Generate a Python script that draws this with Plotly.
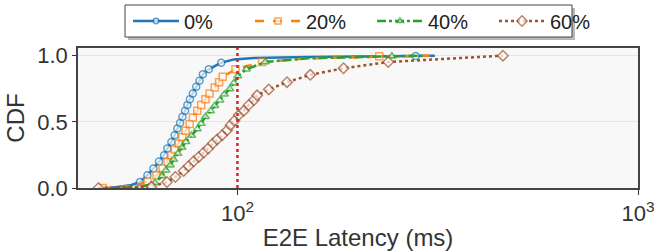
import plotly.graph_objects as go

# ---- data ----
labels = ["0%", "20%", "40%", "60%"]

lat_0 = [48, 54, 57.1, 59.6, 61.7, 63.7, 65.6, 66.8, 68.4, 69.7, 70.8, 71.9, 72.9, 74.0, 75.0, 76.1,
         77.4, 78.9, 80.4, 82.0, 84.8, 91.1, 98, 110, 150, 278.6, 311]
cdf_0 = [0.0, 0.02, 0.045, 0.096, 0.147, 0.2, 0.248, 0.298, 0.348, 0.399, 0.45, 0.492, 0.538, 0.583,
         0.627, 0.67, 0.715, 0.765, 0.81, 0.859, 0.897, 0.947, 0.972, 0.983, 0.99, 0.997, 1.0]
mark_0 = [0, 0, 1, 1, 1, 1, 1, 1, 1, 1, 1, 1, 1, 1, 1, 1, 1, 1, 1, 1, 1, 1, 0, 0, 0, 1, 0]

lat_20 = [46.1, 55, 59.6, 62.8, 65.0, 66.9, 68.4, 69.8, 71.4, 72.9, 74.2, 76.0, 77.4, 79.4, 81.2,
          83.2, 85.2, 87.8, 90.0, 91.9, 98.9, 115.2, 150, 226, 302]
cdf_20 = [0.0, 0.015, 0.05, 0.096, 0.147, 0.197, 0.248, 0.291, 0.336, 0.386, 0.432, 0.483, 0.533,
          0.583, 0.627, 0.67, 0.715, 0.76, 0.80, 0.841, 0.897, 0.952, 0.98, 0.995, 1.0]
mark_20 = [1, 0, 1, 1, 1, 1, 1, 1, 1, 1, 1, 1, 1, 1, 1, 1, 1, 1, 1, 1, 1, 1, 0, 1, 0]

lat_40 = [52, 58, 62.2, 64.8, 66.3, 68.0, 69.3, 71.0, 72.7, 74.4, 76.8, 79.4, 81.2, 83.2, 85.7,
          87.8, 90.4, 92.8, 95.7, 97.9, 100.2, 105.3, 117.4, 150, 243, 290]
cdf_40 = [0.0, 0.012, 0.04, 0.09, 0.134, 0.172, 0.215, 0.26, 0.306, 0.349, 0.397, 0.445, 0.488,
          0.538, 0.581, 0.621, 0.664, 0.708, 0.748, 0.791, 0.846, 0.897, 0.952, 0.98, 0.995, 1.0]
mark_40 = [0, 0, 1, 1, 1, 1, 1, 1, 1, 1, 1, 1, 1, 1, 1, 1, 1, 1, 1, 1, 1, 1, 1, 0, 1, 0]

lat_60 = [45, 61, 66.7, 70, 73.4, 75.5, 77.8, 80.1, 82.4, 84.5, 86.8, 89, 91.6, 94.3, 96.1, 98.3,
          100.8, 103.7, 106.7, 110, 112, 119.7, 133, 152, 184, 238, 460]
cdf_60 = [0.0, 0.01, 0.045, 0.083, 0.129, 0.165, 0.202, 0.235, 0.268, 0.298, 0.336, 0.367, 0.399,
          0.437, 0.475, 0.508, 0.551, 0.583, 0.627, 0.665, 0.70, 0.745, 0.80, 0.855, 0.905, 0.952,
          1.0]
mark_60 = [1] * 27

threshold_ms = 100
x_tickvals = [100, 1000]
x_ticktext = ["10<sup>2</sup>", "10<sup>3</sup>"]
y_tickvals = [0.0, 0.5, 1.0]
y_ticktext = ["0.0", "0.5", "1.0"]

# ---- layout geometry (pixels) ----
W, H = 662, 252
L, R, T, B = 78, 24, 48, 64
PW, PH = W - L - R, H - T - B


def px_x(p):
    return (p - L) / PW


def px_y(p):
    return (H - B - p) / PH


# ---- styles ----
colors = ["#1f77b4", "#ff7f0e", "#2ca02c", "#a0522d"]
dashes = ["solid", "dash", "dashdot", "dot"]
symbols = ["circle", "square", "triangle-up", "diamond"]
msizes = [7, 7, 7, 8]

series = [(lat_0, cdf_0, mark_0), (lat_20, cdf_20, mark_20),
          (lat_40, cdf_40, mark_40), (lat_60, cdf_60, mark_60)]

fig = go.Figure()
for i, (lx, ly, mk) in enumerate(series):
    fig.add_trace(go.Scatter(
        x=lx, y=ly, mode="lines+markers", name=labels[i],
        line=dict(color=colors[i], width=2.5, dash=dashes[i]),
        marker=dict(symbol=symbols[i], size=[msizes[i] if m else 0 for m in mk],
                    color="white", line=dict(color=colors[i], width=1.5)),
    ))

fig.add_trace(go.Scatter(
    x=[threshold_ms, threshold_ms], y=[0, 1.06], mode="lines", showlegend=False,
    line=dict(color="#d62728", width=2.5, dash="dot"), hoverinfo="skip"))

# legend frame + shadow
fig.add_shape(type="rect", xref="paper", yref="paper",
              x0=px_x(128), x1=px_x(575), y0=px_y(40), y1=px_y(8),
              fillcolor="#888888", line=dict(width=0), layer="above", opacity=0.6)
fig.add_shape(type="rect", xref="paper", yref="paper",
              x0=px_x(125), x1=px_x(572), y0=px_y(37), y1=px_y(5),
              fillcolor="white", line=dict(color="#444444", width=1), layer="above")

font_family = "Liberation Sans, Arial, sans-serif"
fig.update_layout(
    width=W, height=H,
    margin=dict(l=L, r=R, t=T, b=B, autoexpand=False),
    paper_bgcolor="white", plot_bgcolor="#f8f8f8",
    font=dict(family=font_family, color="#333333", size=20),
    showlegend=True,
    legend=dict(orientation="h", x=px_x(128), xanchor="left",
                y=px_y(21), yanchor="middle",
                bgcolor="rgba(0,0,0,0)", borderwidth=0,
                font=dict(size=20, color="#222222"), entrywidth=61,
                itemwidth=46, tracegroupgap=0),
    xaxis=dict(type="log", range=[1.602, 3.0], tickvals=x_tickvals, ticktext=x_ticktext,
               showgrid=False, ticks="outside", ticklen=5, tickcolor="#333",
               showline=True, linecolor="#444", linewidth=1.5, mirror=True,
               tickfont=dict(size=22), zeroline=False, automargin=False,
               title=dict(text="E2E Latency (ms)", font=dict(size=24), standoff=4)),
    yaxis=dict(range=[0, 1.058], tickvals=y_tickvals, ticktext=y_ticktext,
               showgrid=True, gridcolor="#e6e6e6", gridwidth=1, zeroline=False,
               ticks="outside", ticklen=4, tickcolor="#333",
               showline=True, linecolor="#444", linewidth=1.5, mirror=True,
               tickfont=dict(size=22), automargin=False,
               title=dict(text="CDF", font=dict(size=24), standoff=6)),
)

fig.write_html("out.html", config={"displayModeBar": False},
               post_script="document.body.style.margin='0';document.body.style.padding='0';")
